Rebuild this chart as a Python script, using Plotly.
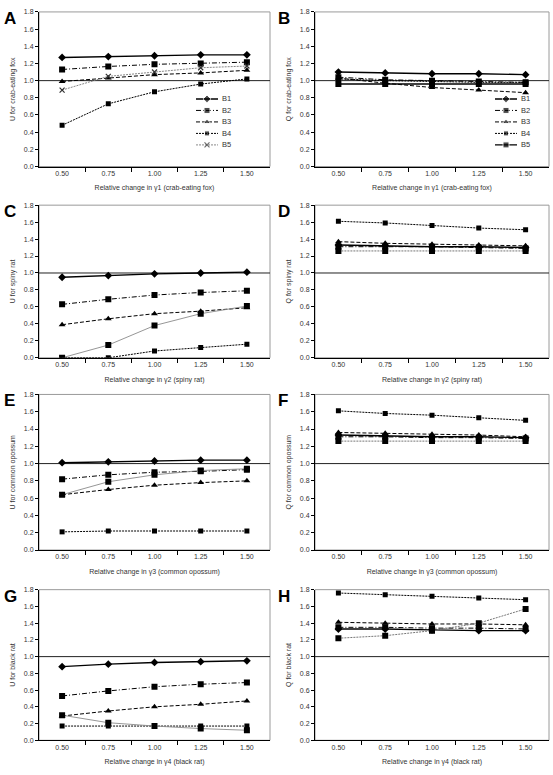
import plotly.graph_objects as go

# ---------------- data ----------------
x_rel = [0.50, 0.75, 1.00, 1.25, 1.50]
x_labels = ["0.50", "0.75", "1.00", "1.25", "1.50"]
y_ticks = [0.0, 0.2, 0.4, 0.6, 0.8, 1.0, 1.2, 1.4, 1.6, 1.8]
series_names = ["B1", "B2", "B3", "B4", "B5"]
ref_level = 1.0

u_crab_fox = {
    "B1": [1.27, 1.28, 1.29, 1.30, 1.30],
    "B2": [1.13, 1.165, 1.19, 1.20, 1.215],
    "B3": [0.99, 1.03, 1.07, 1.09, 1.12],
    "B4": [0.48, 0.73, 0.87, 0.96, 1.02],
    "B5": [0.89, 1.05, 1.10, 1.15, 1.17],
}
q_crab_fox = {
    "B1": [1.10, 1.09, 1.08, 1.08, 1.07],
    "B2": [1.04, 1.01, 1.00, 0.99, 0.98],
    "B3": [1.03, 0.97, 0.92, 0.89, 0.86],
    "B4": [1.02, 1.00, 0.99, 0.98, 0.98],
    "B5": [0.96, 0.96, 0.96, 0.96, 0.96],
}
u_spiny_rat = {
    "B1": [0.95, 0.97, 0.99, 1.00, 1.01],
    "B2": [0.63, 0.69, 0.74, 0.77, 0.79],
    "B3": [0.39, 0.46, 0.52, 0.55, 0.59],
    "B4": [0.00, 0.00, 0.08, 0.12, 0.16],
    "B5": [0.00, 0.15, 0.38, 0.52, 0.61],
}
q_spiny_rat = {
    "B1": [1.33, 1.32, 1.31, 1.31, 1.30],
    "B2": [1.31, 1.31, 1.31, 1.30, 1.29],
    "B3": [1.37, 1.35, 1.34, 1.33, 1.32],
    "B4": [1.61, 1.59, 1.56, 1.53, 1.51],
    "B5": [1.26, 1.26, 1.26, 1.26, 1.26],
}
u_common_opossum = {
    "B1": [1.01, 1.02, 1.03, 1.04, 1.04],
    "B2": [0.82, 0.87, 0.90, 0.91, 0.93],
    "B3": [0.64, 0.70, 0.75, 0.78, 0.80],
    "B4": [0.21, 0.22, 0.22, 0.22, 0.22],
    "B5": [0.64, 0.79, 0.87, 0.92, 0.94],
}
q_common_opossum = {
    "B1": [1.33, 1.32, 1.31, 1.31, 1.30],
    "B2": [1.31, 1.31, 1.30, 1.30, 1.29],
    "B3": [1.36, 1.35, 1.34, 1.33, 1.31],
    "B4": [1.61, 1.58, 1.56, 1.53, 1.50],
    "B5": [1.26, 1.26, 1.26, 1.26, 1.26],
}
u_black_rat = {
    "B1": [0.88, 0.91, 0.93, 0.94, 0.95],
    "B2": [0.53, 0.59, 0.64, 0.67, 0.69],
    "B3": [0.29, 0.35, 0.40, 0.43, 0.47],
    "B4": [0.17, 0.17, 0.17, 0.17, 0.17],
    "B5": [0.30, 0.21, 0.17, 0.14, 0.12],
}
q_black_rat = {
    "B1": [1.33, 1.33, 1.32, 1.31, 1.31],
    "B2": [1.35, 1.35, 1.34, 1.34, 1.33],
    "B3": [1.41, 1.40, 1.39, 1.39, 1.38],
    "B4": [1.76, 1.74, 1.72, 1.70, 1.68],
    "B5": [1.22, 1.25, 1.31, 1.40, 1.57],
}

panel_letters = ["A", "B", "C", "D", "E", "F", "G", "H"]
panel_data = [u_crab_fox, q_crab_fox, u_spiny_rat, q_spiny_rat,
              u_common_opossum, q_common_opossum, u_black_rat, q_black_rat]
y_titles = ["U for crab-eating fox", "Q for crab-eating fox",
            "U for spiny rat", "Q for spiny rat",
            "U for common opossum", "Q for common opossum",
            "U for black rat", "Q for black rat"]
x_titles = ["Relative change in γ1 (crab-eating fox)", "Relative change in γ1 (crab-eating fox)",
            "Relative change in γ2 (spiny rat)", "Relative change in γ2 (spiny rat)",
            "Relative change in γ3 (common opossum)", "Relative change in γ3 (common opossum)",
            "Relative change in γ4 (black rat)", "Relative change in γ4 (black rat)"]

# ---------------- layout geometry (pixels) ----------------
W, H = 553, 775
col_px = [(39, 270), (315, 549)]
row_px = [(8, 164), (203, 357), (394, 551), (591, 743)]
legend_boxes_px = [(196, 236, 90, 148), (495, 535, 90, 148)]  # x0, x1, top, bottom
FONT = "Liberation Sans, Arial, sans-serif"
TXT = "#333"

base_style = {
    "B1": dict(line=dict(color="black", width=1.4, dash="solid"),
               marker=dict(symbol="diamond", size=6, color="black")),
    "B2": dict(line=dict(color="black", width=1.0, dash="5px,2px,1px,2px"),
               marker=dict(symbol="square", size=6, color="black")),
    "B3": dict(line=dict(color="black", width=1.0, dash="4px,2px"),
               marker=dict(symbol="triangle-up", size=6, color="black")),
    "B4": dict(line=dict(color="black", width=1.0, dash="2px,1px"),
               marker=dict(symbol="square", size=5, color="black")),
    "B5": dict(line=dict(color="#8a8a8a", width=0.9, dash="solid"),
               marker=dict(symbol="square", size=6, color="black")),
}
b5_panelA = dict(line=dict(color="#7a7a7a", width=0.9, dash="2px,1px"),
                 marker=dict(symbol="x-thin", size=5, color="#333",
                             line=dict(width=1.2, color="#333")))
b5_panelB = dict(line=dict(color="black", width=1.4, dash="solid"),
                 marker=dict(symbol="square", size=6, color="black"))
b5_q_panels = dict(line=dict(color="#777", width=1.0, dash="2px,1px"),
                   marker=dict(symbol="square", size=6, color="black"))


def style_for(panel, name):
    if name == "B5":
        if panel == 0:
            return b5_panelA
        if panel == 1:
            return b5_panelB
        if panel in (3, 5, 7):
            return b5_q_panels
    return base_style[name]


fig = go.Figure()
layout = {}
shapes = []
annotations = []

step = x_rel[1] - x_rel[0]
x_range = [x_rel[0] - step / 2, x_rel[-1] + step / 2]
minor_vals = [(a + b) / 2 for a, b in zip(x_rel[:-1], x_rel[1:])]

for i in range(8):
    r, c = divmod(i, 2)
    idx = "" if i == 0 else str(i + 1)
    xa, ya = "xaxis" + idx, "yaxis" + idx
    xr, yr = "x" + idx, "y" + idx
    x0, x1 = col_px[c]
    t, b = row_px[r]
    layout[xa] = dict(
        domain=[x0 / W, x1 / W], anchor=yr, range=x_range,
        tickmode="array", tickvals=x_rel, ticktext=x_labels, ticks="",
        showline=True, linecolor="black", linewidth=1, showgrid=False, zeroline=False,
        tickfont=dict(family=FONT, size=7, color=TXT),
        minor=dict(tickmode="array", tickvals=minor_vals, ticks="outside",
                   ticklen=4, tickcolor="black", showgrid=False),
        title=dict(text=x_titles[i], font=dict(family=FONT, size=7, color=TXT), standoff=9),
    )
    layout[ya] = dict(
        domain=[1 - b / H, 1 - t / H], anchor=xr, range=[0, 1.8],
        tickmode="array", tickvals=y_ticks, ticktext=[f"{v:.1f}" for v in y_ticks],
        ticks="outside", ticklen=3, tickcolor="black",
        showline=True, linecolor="black", linewidth=1, showgrid=False, zeroline=False,
        tickfont=dict(family=FONT, size=7, color=TXT),
        title=dict(text=y_titles[i], font=dict(family=FONT, size=7, color=TXT), standoff=7),
    )
    shapes.append(dict(type="rect", xref=xr + " domain", yref=yr + " domain",
                       x0=0, x1=1, y0=0, y1=1, line=dict(color="#9a9a9a", width=1),
                       layer="below"))
    shapes.append(dict(type="line", xref=xr + " domain", yref=yr,
                       x0=0, x1=1, y0=ref_level, y1=ref_level,
                       line=dict(color="#222", width=1), layer="below"))
    annotations.append(dict(text="<b>" + panel_letters[i] + "</b>", xref="paper", yref="paper",
                            x=(2 if c == 0 else 276) / W, y=1 - (t - 5) / H,
                            xanchor="left", yanchor="top", showarrow=False,
                            font=dict(family=FONT, size=17, color="black")))

    data = panel_data[i]
    for name in series_names:
        st = style_for(i, name)
        fig.add_trace(go.Scatter(
            x=x_rel, y=data[name], name=name, mode="lines+markers",
            xaxis=xr, yaxis=yr, line=st["line"], marker=st["marker"],
            showlegend=False,
        ))

# ---------------- in-plot legends for panels A and B ----------------
n_items = len(series_names)
for k, (lx0, lx1, lt, lb) in enumerate(legend_boxes_px):
    idx = str(9 + k)
    xa, ya, xr, yr = "xaxis" + idx, "yaxis" + idx, "x" + idx, "y" + idx
    layout[xa] = dict(domain=[lx0 / W, lx1 / W], anchor=yr, range=[0, 1], visible=False,
                      fixedrange=True)
    layout[ya] = dict(domain=[1 - lb / H, 1 - lt / H], anchor=xr,
                      range=[n_items - 0.5, -0.5], visible=False, fixedrange=True)
    for j, name in enumerate(series_names):
        st = style_for(k, name)
        mk = dict(st["marker"])
        mk["size"] = [0, st["marker"]["size"], 0]
        fig.add_trace(go.Scatter(
            x=[0, 0.275, 0.55], y=[j, j, j], mode="lines+markers", xaxis=xr, yaxis=yr,
            line=st["line"], marker=mk, showlegend=False, hoverinfo="skip",
        ))
        annotations.append(dict(text=name, xref=xr, yref=yr, x=0.6, y=j,
                                xanchor="left", yanchor="middle", showarrow=False,
                                font=dict(family=FONT, size=7.5, color=TXT)))

fig.update_layout(
    width=W, height=H, margin=dict(l=0, r=0, t=0, b=0),
    paper_bgcolor="white", plot_bgcolor="rgba(0,0,0,0)",
    font=dict(family=FONT, size=7, color=TXT),
    shapes=shapes, annotations=annotations, showlegend=False,
    **layout,
)

fig.write_html("out.html", config={"displayModeBar": False},
               post_script="document.body.style.margin='0';document.body.style.overflow='hidden';")
